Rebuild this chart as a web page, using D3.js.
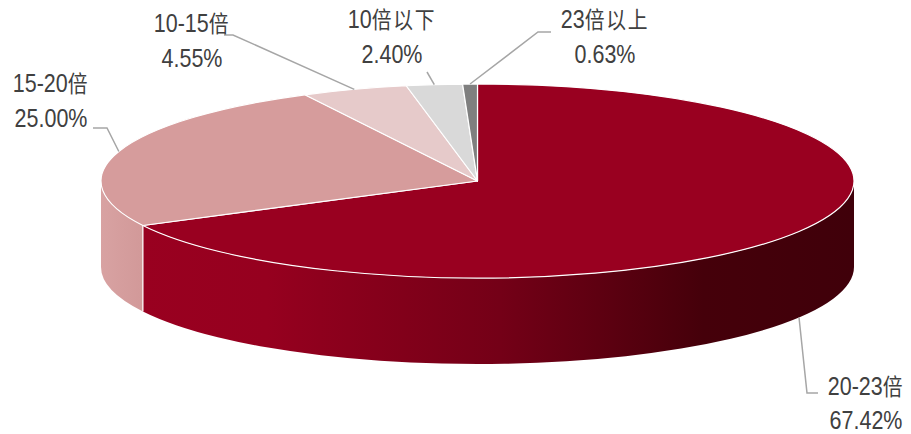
<!DOCTYPE html>
<html>
<head>
<meta charset="utf-8">
<script src="https://cdn.jsdelivr.net/npm/d3@7/dist/d3.min.js"></script>
<style>
  html, body { margin: 0; padding: 0; background: #fff; }
  svg { display: block; }
  text { font-family: "Liberation Sans", Arial, sans-serif; fill: #404040; }
  .cjk { font-family: "Noto Sans CJK SC", sans-serif; }
</style>
</head>
<body>
<svg id="chart" width="911" height="434"></svg>
<script>
// Valuation buckets (PE multiple ranges) and their shares, clockwise from 12 o'clock
const categories = ["20-23倍", "15-20倍", "10-15倍", "10倍以下", "23倍以上"];
const shares = [67.42, 25.00, 4.55, 2.40, 0.63];
const shareLabels = ["67.42%", "25.00%", "4.55%", "2.40%", "0.63%"];

// Slice colours (top faces)
const topColors = ["#990020", "#D69C9C", "#E6CACA", "#D9D9D9", "#7F7F7F"];

// Label placement: text centre, first baseline, line gap, and leader-line bend points
const labelLayout = [
  { x: 866, y: 395, gap: 34, leader: [[807, 393], [818, 393]] },
  { x: 51,  y: 92,  gap: 35, leader: [[107, 128], [93, 128]] },
  { x: 192, y: 32,  gap: 35, leader: [[233, 35], [224, 35]] },
  { x: 392, y: 28,  gap: 35, leader: [[427, 72]] },
  { x: 605, y: 28,  gap: 35, leader: [[538, 32], [551, 32]] }
];

const svg = d3.select("#chart");
const cx = 477.5, cy = 181, rx = 376.5, ry = 97, depth = 86;

const pie = d3.pie().sort(null).startAngle(0).endAngle(2 * Math.PI);
const arcs = pie(shares);

// point on the projected ellipse; angle measured clockwise from 12 o'clock
const pt = (a, dy = 0) => [cx + rx * Math.sin(a), cy - ry * Math.cos(a) + dy];
const fmt = p => p[0].toFixed(2) + "," + p[1].toFixed(2);

const defs = svg.append("defs");
const redSide = defs.append("linearGradient")
  .attr("id", "redSide").attr("gradientUnits", "userSpaceOnUse")
  .attr("x1", cx - rx).attr("x2", cx + rx).attr("y1", 0).attr("y2", 0);
[[0, "#9A0020"], [0.22, "#96001F"], [0.40, "#82001A"], [0.53, "#740017"], [0.66, "#5E0011"], [0.80, "#45000A"], [1, "#40000A"]]
  .forEach(([o, c]) => redSide.append("stop").attr("offset", o).attr("stop-color", c));
const pinkSide = defs.append("linearGradient")
  .attr("id", "pinkSide").attr("gradientUnits", "userSpaceOnUse")
  .attr("x1", cx - rx).attr("x2", cx - rx + 60).attr("y1", 0).attr("y2", 0);
[[0, "#D8A2A2"], [1, "#CF9595"]]
  .forEach(([o, c]) => pinkSide.append("stop").attr("offset", o).attr("stop-color", c));
const sideFills = ["url(#redSide)", "url(#pinkSide)", "#D8B8B8", "#C4C4C4", "#6A6A6A"];

// Front side walls: only the part of each slice between 3 and 9 o'clock is visible
const frontLo = Math.PI / 2, frontHi = 3 * Math.PI / 2;
const sides = arcs.map((d, i) => {
  const s = Math.max(d.startAngle, frontLo), e = Math.min(d.endAngle, frontHi);
  if (e <= s) return null;
  return { i, s, e };
}).filter(Boolean);

svg.append("g").selectAll("path").data(sides).join("path")
  .attr("d", d => `M${fmt(pt(d.s))}A${rx},${ry} 0 0 1 ${fmt(pt(d.e))}L${fmt(pt(d.e, depth))}A${rx},${ry} 0 0 0 ${fmt(pt(d.s, depth))}Z`)
  .attr("fill", d => sideFills[d.i]);

// white seams where slice boundaries run down the wall
const seams = arcs.map(d => d.endAngle).filter(a => a > frontLo && a < frontHi);
svg.append("g").selectAll("line").data(seams).join("line")
  .attr("x1", a => pt(a)[0]).attr("y1", a => pt(a)[1])
  .attr("x2", a => pt(a, depth)[0]).attr("y2", a => pt(a, depth)[1])
  .attr("stroke", "#fff").attr("stroke-width", 1.2);

// top faces
svg.append("g").selectAll("path").data(arcs).join("path")
  .attr("d", d => {
    const large = d.endAngle - d.startAngle > Math.PI ? 1 : 0;
    return `M${cx},${cy}L${fmt(pt(d.startAngle))}A${rx},${ry} 0 ${large} 1 ${fmt(pt(d.endAngle))}Z`;
  })
  .attr("fill", (d, i) => topColors[i])
  .attr("stroke", "#fff").attr("stroke-width", 1.2).attr("stroke-linejoin", "round");

// leader lines from each slice's mid-angle on the rim
const anchor = (d, i) => {
  const m = (d.startAngle + d.endAngle) / 2;
  const front = Math.cos(m) < 0 && i === 0;
  return pt(m, front ? depth : 0);
};
svg.append("g").selectAll("path").data(arcs).join("path")
  .attr("d", (d, i) => d3.line()([anchor(d, i), ...labelLayout[i].leader]))
  .attr("fill", "none").attr("stroke", "#A6A6A6").attr("stroke-width", 1.5);

// two-line labels: category and share, set in a narrowed face
const labels = svg.append("g").selectAll("g").data(arcs).join("g")
  .attr("transform", (d, i) => `translate(${labelLayout[i].x},${labelLayout[i].y}) scale(0.86,1)`);

const isCjk = s => /[\u4e00-\u9fff]/.test(s);
const splitCjk = s => s.match(/[\u4e00-\u9fff]+|[^\u4e00-\u9fff]+/g);
const cat = labels.append("text").attr("text-anchor", "middle").attr("font-size", 25);
cat.selectAll("tspan").data((d, i) => splitCjk(categories[i])).join("tspan")
  .attr("class", s => isCjk(s) ? "cjk" : null)
  .attr("font-size", s => isCjk(s) ? 23 : 25)
  .attr("letter-spacing", s => isCjk(s) ? 2 : 0)
  .text(s => s);
labels.append("text").attr("text-anchor", "middle").attr("font-size", 25)
  .attr("y", (d, i) => labelLayout[i].gap)
  .text((d, i) => shareLabels[i]);
</script>
</body>
</html>
